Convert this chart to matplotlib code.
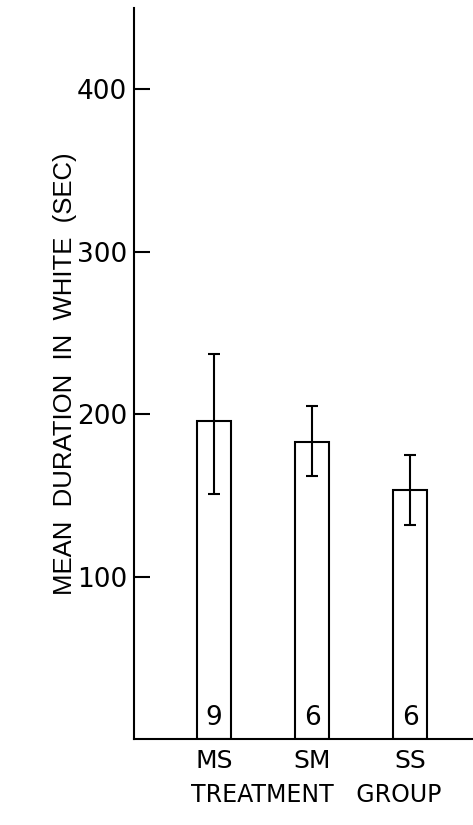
import matplotlib
matplotlib.use("Agg")
import matplotlib.pyplot as plt

# データ
groups = ["MS", "SM", "SS"]
means = [196, 183, 153]
err_hi = [237, 205, 175]
err_lo = [151, 162, 132]
counts = ["9", "6", "6"]
yticks = [100, 200, 300, 400]

plt.rcParams['font.family'] = ['DejaVu Sans']

fig = plt.figure(figsize=(4.73, 8.25), dpi=100)
ax = fig.add_axes([134 / 473, 1 - 739 / 825, 339 / 473, 731 / 825])

x = [1, 2, 3]
yerr = [[m - lo for m, lo in zip(means, err_lo)],
        [hi - m for m, hi in zip(means, err_hi)]]

ax.bar(x, means, width=0.35, color="white", edgecolor="black", linewidth=1.5)
ax.errorbar(x, means, yerr=yerr, fmt="none", ecolor="black",
            elinewidth=1.5, capsize=4, capthick=1.5)

# 棒の中の標本数
for xi, c in zip(x, counts):
    ax.text(xi, 13, c, ha="center", va="center", fontsize=19)

ax.set_xlim(0.184, 3.64)
ax.set_ylim(0, 450)
ax.set_xticks(x)
ax.set_xticklabels(groups, fontsize=18)
ax.set_yticks(yticks)
ax.set_yticklabels([str(t) for t in yticks], fontsize=19)
ax.tick_params(axis="y", direction="in", length=11.5, width=1.5, pad=5)
ax.tick_params(axis="x", length=0, pad=7)

for s in ["top", "right"]:
    ax.spines[s].set_visible(False)
for s in ["left", "bottom"]:
    ax.spines[s].set_linewidth(1.5)

ax.set_xlabel("TREATMENT   GROUP", fontsize=17)
ax.xaxis.set_label_coords(0.537, -0.076)
ax.xaxis.label.set_va("center")
ax.set_ylabel("MEAN  DURATION  IN  WHITE  (SEC)", fontsize=18.5, family="Liberation Sans")
ax.yaxis.set_label_coords(-0.2035, 0.5)
ax.yaxis.label.set_va("center")

fig.savefig("out.png", dpi=100)
